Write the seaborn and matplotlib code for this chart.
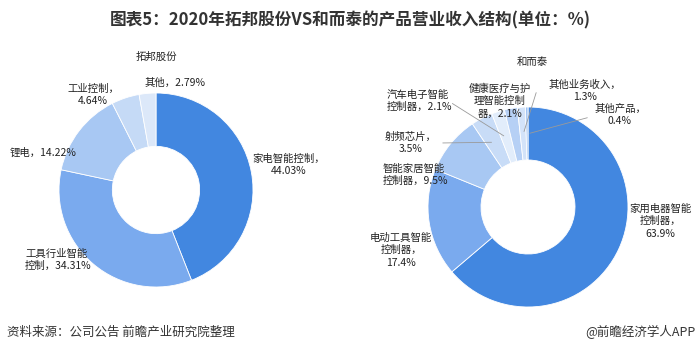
import matplotlib
matplotlib.use("Agg")
import matplotlib.pyplot as plt
import seaborn as sns
import numpy as np

sns.set_theme(style="white")
plt.rcParams['font.family'] = ['Noto Sans CJK SC', 'DejaVu Sans']

# 拓邦股份
tb_names = ["家电智能控制", "工具行业智能控制", "锂电", "工业控制", "其他"]
tb_values = [44.03, 34.31, 14.22, 4.64, 2.79]
tb_colors = ["#4287e0", "#7aaaee", "#a8c8f3", "#c5daf6", "#dce8f9"]

# 和而泰
hrt_names = ["家用电器智能控制器", "电动工具智能控制器", "智能家居智能控制器", "射频芯片",
             "汽车电子智能控制器", "健康医疗与护理智能控制器", "其他业务收入", "其他产品"]
hrt_values = [63.9, 17.4, 9.5, 3.5, 2.1, 2.1, 1.3, 0.4]
hrt_colors = ["#4287e0", "#7aaaee", "#a8c8f3", "#c8dcf7", "#e2edfb", "#b6d0f5", "#d3e3f9", "#9fc2f2"]

W, H = 700, 356
fig = plt.figure(figsize=(W / 100, H / 100), dpi=100)


def px(x, y):
    # 像素坐标(左上为原点) -> figure fraction
    return x / W, 1 - y / H


def donut(cx, cy, r, values, colors, hole):
    ax = fig.add_axes([(cx - r) / W, 1 - (cy + r) / H, 2 * r / W, 2 * r / H])
    wedges, _ = ax.pie(values, colors=colors, startangle=90, counterclock=False,
                       wedgeprops=dict(width=1 - hole, edgecolor="white", linewidth=0.6))
    ax.set_xlim(-1, 1)
    ax.set_ylim(-1, 1)
    ax.set_aspect("equal")
    ax.axis("off")
    return ax, wedges


ax1, w1 = donut(156, 190, 97, tb_values, tb_colors, 0.45)
ax2, w2 = donut(528, 207, 100, hrt_values, hrt_colors, 0.47)

fs = 7.5
tc = "#222222"

fig.text(*px(350, 20), "图表5：2020年拓邦股份VS和而泰的产品营业收入结构(单位：%)",
         ha="center", va="center", fontsize=12, fontweight="bold", color="#333333")
fig.text(*px(156, 57), "拓邦股份", ha="center", va="center", fontsize=7.5, color=tc)
fig.text(*px(532, 62), "和而泰", ha="center", va="center", fontsize=7.5, color=tc)

# 左图标签
left_labels = [
    (289, 165, "center", "家电智能控制，\n44.03%"),
    (25, 260, "left", "工具行业智能\n控制，34.31%"),
    (10, 153, "left", "锂电，14.22%"),
    (93, 95, "center", "工业控制，\n4.64%"),
    (175, 83, "center", "其他，2.79%"),
]
for x, y, ha, s in left_labels:
    fig.text(*px(x, y), s, ha=ha, va="center", fontsize=fs, color=tc, linespacing=1.3)

# 右图标签
right_labels = [
    (660, 221, "center", "家用电器智能\n控制器，\n63.9%"),
    (401, 250, "center", "电动工具智能\n控制器，\n17.4%"),
    (383, 175, "left", "智能家居智能\n控制器，9.5%"),
    (411, 143, "center", "射频芯片，\n3.5%"),
    (387, 101, "left", "汽车电子智能\n控制器，2.1%"),
    (500, 101, "center", "健康医疗与护\n理智能控制\n器，2.1%"),
    (585, 91, "center", "其他业务收入，\n1.3%"),
    (620, 115, "center", "其他产品，\n0.4%"),
]
for x, y, ha, s in right_labels:
    fig.text(*px(x, y), s, ha=ha, va="center", fontsize=fs, color=tc, linespacing=1.3)

# 引导线
leader_ends = {3: (440, 143), 4: (450, 102), 6: (537, 90), 7: (590, 117)}
for i, (x, y) in leader_ends.items():
    w = w2[i]
    ang = np.deg2rad((w.theta1 + w.theta2) / 2)
    ax2.annotate("", xy=(0.73 * np.cos(ang), 0.73 * np.sin(ang)), xycoords="data",
                 xytext=px(x, y), textcoords="figure fraction",
                 arrowprops=dict(arrowstyle="-", color="#9a9a9a", lw=0.6))

fig.text(*px(7, 332), "资料来源：公司公告 前瞻产业研究院整理", ha="left", va="center",
         fontsize=9, color="#333333")
fig.text(*px(695, 332), "@前瞻经济学人APP", ha="right", va="center",
         fontsize=9, color="#333333")

fig.savefig("out.png", dpi=100, facecolor="white")
